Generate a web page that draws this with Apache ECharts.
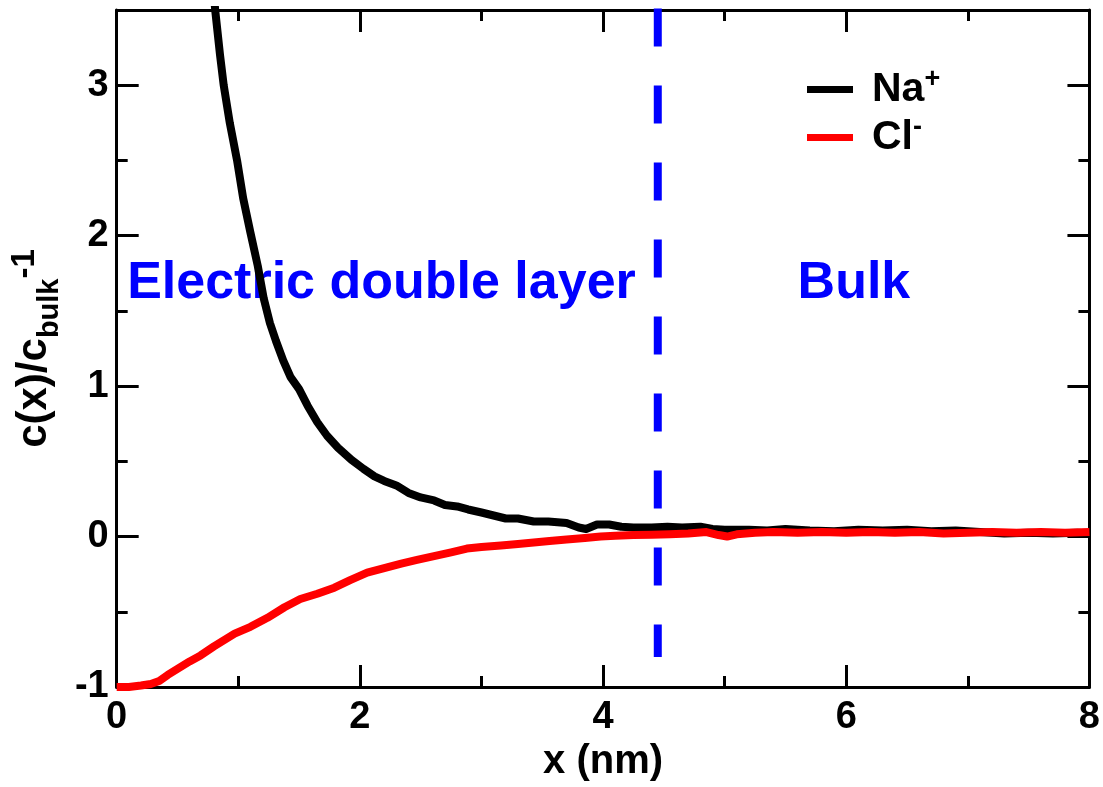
<!DOCTYPE html>
<html>
<head>
<meta charset="utf-8">
<script src="https://cdn.jsdelivr.net/npm/echarts@6/dist/echarts.min.js"></script>
<style>
  html, body { margin: 0; padding: 0; background: #fff; }
  #chart { width: 1103px; height: 787px; }
</style>
</head>
<body>
<div id="chart"></div>
<script>
// Distance from the charged wall (nm) and relative excess concentration c(x)/c_bulk - 1
const naX = [0.76, 0.81, 0.85, 0.88, 0.93, 0.99, 1.04, 1.10, 1.16, 1.21, 1.26, 1.31, 1.37, 1.43, 1.50,
  1.57, 1.65, 1.73, 1.82, 1.93, 2.03, 2.12, 2.20, 2.30, 2.40, 2.50, 2.61, 2.70, 2.80, 2.89,
  3.00, 3.10, 3.20, 3.30, 3.43, 3.55, 3.70, 3.80, 3.86, 3.95, 4.05, 4.15, 4.25, 4.40, 4.53,
  4.65, 4.80, 4.90, 5.00, 5.20, 5.35, 5.50, 5.70, 5.90, 6.10, 6.30, 6.50, 6.70, 6.90, 7.10,
  7.30, 7.50, 7.70, 7.90, 8.00];
const naY = [4.00, 3.50, 3.20, 3.00, 2.75, 2.50, 2.25, 2.02, 1.80, 1.58, 1.42, 1.30, 1.17, 1.06, 0.98,
  0.87, 0.76, 0.67, 0.59, 0.51, 0.45, 0.40, 0.37, 0.34, 0.29, 0.26, 0.24, 0.21, 0.20, 0.18,
  0.16, 0.14, 0.12, 0.12, 0.10, 0.10, 0.09, 0.06, 0.05, 0.08, 0.08, 0.065, 0.06, 0.06, 0.065,
  0.06, 0.065, 0.05, 0.045, 0.045, 0.04, 0.05, 0.04, 0.035, 0.045, 0.04, 0.045, 0.035, 0.04, 0.03,
  0.02, 0.025, 0.02, 0.025, 0.02];

const clX = [0.00, 0.10, 0.20, 0.28, 0.35, 0.42, 0.50, 0.60, 0.69, 0.80, 0.90, 0.97, 1.10, 1.24, 1.38,
  1.51, 1.65, 1.79, 1.92, 2.06, 2.20, 2.34, 2.47, 2.61, 2.75, 2.88, 3.00, 3.16, 3.30, 3.43,
  3.56, 3.70, 3.85, 3.98, 4.10, 4.25, 4.40, 4.55, 4.70, 4.85, 4.95, 5.02, 5.10, 5.25, 5.40,
  5.60, 5.80, 6.00, 6.20, 6.40, 6.60, 6.80, 7.00, 7.20, 7.40, 7.60, 7.80, 8.00];
const clY = [-1.00, -1.00, -0.99, -0.98, -0.96, -0.92, -0.88, -0.83, -0.79, -0.73, -0.68, -0.645, -0.60, -0.54, -0.47,
  -0.415, -0.38, -0.34, -0.29, -0.24, -0.21, -0.18, -0.155, -0.13, -0.105, -0.08, -0.07, -0.06, -0.05, -0.04,
  -0.03, -0.02, -0.01, 0.00, 0.005, 0.01, 0.012, 0.015, 0.02, 0.03, 0.01, 0.00, 0.015, 0.025, 0.03,
  0.025, 0.03, 0.025, 0.03, 0.025, 0.03, 0.02, 0.025, 0.03, 0.025, 0.03, 0.025, 0.03];

// Boundary between the double layer and the bulk region
const boundaryX = [4.45, 4.45];
const boundaryY = [3.51, -0.80];

// Region annotations
const regionNames = ['Electric double layer', 'Bulk'];
const regionX = [0.086, 5.60];
const regionY = [1.684, 1.684];

const xTicks = { min: 0, max: 8, interval: 2 };
const yTicks = { min: -1, max: 3.5, interval: 1, minorInterval: 0.5 };

const FONT = "'Liberation Sans', Arial, Helvetica, sans-serif";
const zip = (xs, ys) => xs.map((x, i) => [x, ys[i]]);

const baseLine = { show: true, onZero: false, lineStyle: { color: '#000', width: 3 } };
const noLine = { show: false, onZero: false };
const tickStyle = { color: '#000', width: 3 };

function xAxisDef(position, showLabels) {
  return {
    type: 'value', gridIndex: 0, position,
    min: xTicks.min, max: xTicks.max, interval: xTicks.interval,
    axisLine: baseLine,
    axisTick: { show: true, inside: true, length: 22, lineStyle: tickStyle },
    minorTick: { show: true, splitNumber: 2, length: 11, lineStyle: tickStyle },
    splitLine: { show: false }, minorSplitLine: { show: false },
    axisLabel: showLabels
      ? { show: true, color: '#000', fontSize: 38, fontWeight: 'bold', fontFamily: FONT, margin: 12 }
      : { show: false },
    name: showLabels ? 'x (nm)' : '',
    nameLocation: 'middle',
    nameGap: 55,
    nameTextStyle: { color: '#000', fontSize: 40, fontWeight: 'bold', fontFamily: FONT }
  };
}

function yAxisDef(position, interval, tickLen, showLabels, showLine) {
  const def = {
    type: 'value', gridIndex: 0, position,
    min: yTicks.min, max: yTicks.max, interval,
    axisLine: showLine ? baseLine : noLine,
    axisTick: { show: true, inside: true, length: tickLen, lineStyle: tickStyle },
    minorTick: { show: false },
    splitLine: { show: false },
    axisLabel: showLabels
      ? { show: true, color: '#000', fontSize: 38, fontWeight: 'bold', fontFamily: FONT, margin: 8,
          showMaxLabel: false,
          formatter: v => (Number.isInteger(v) ? String(v) : '') }
      : { show: false }
  };
  if (showLabels) {
    def.name = '{m|c(x)/c}{b|bulk}{n|-1}';
    def.nameLocation = 'middle';
    def.nameRotate = 90;
    def.nameGap = 44;
    def.nameTextStyle = {
      color: '#000', fontFamily: FONT, fontWeight: 'bold',
      rich: {
        m: { fontSize: 42, fontWeight: 'bold', fontFamily: FONT, color: '#000' },
        b: { fontSize: 29, fontWeight: 'bold', fontFamily: FONT, color: '#000', padding: [30, 0, 0, 0] },
        n: { fontSize: 33, fontWeight: 'bold', fontFamily: FONT, color: '#000', padding: [0, 0, 20, 0] }
      }
    };
  }
  return def;
}

const chart = echarts.init(document.getElementById('chart'), null, { renderer: 'canvas' });

chart.setOption({
  animation: false,
  backgroundColor: '#fff',
  grid: { left: 115, right: 13, top: 10, bottom: 97, containLabel: false },
  xAxis: [xAxisDef('bottom', true), xAxisDef('top', false)],
  yAxis: [
    yAxisDef('left', yTicks.interval, 22, true, true),
    yAxisDef('left', yTicks.minorInterval, 11, false, false),
    yAxisDef('right', yTicks.interval, 22, false, true),
    yAxisDef('right', yTicks.minorInterval, 11, false, false)
  ],
  legend: {
    orient: 'vertical',
    left: 807, top: 66, padding: 0,
    itemWidth: 46, itemHeight: 7, itemGap: 4,
    icon: 'rect',
    selectedMode: false,
    data: ['Na+', 'Cl-'],
    formatter: name => (name === 'Na+' ? '{m|Na}{s|+}' : '{m|Cl}{s|-}'),
    textStyle: {
      color: '#000', fontFamily: FONT, fontWeight: 'bold',
      rich: {
        m: { fontSize: 41, fontWeight: 'bold', fontFamily: FONT, color: '#000', padding: [0, 0, 0, 14] },
        s: { fontSize: 27, fontWeight: 'bold', fontFamily: FONT, color: '#000', padding: [0, 0, 20, 0] }
      }
    }
  },
  series: [
    {
      name: 'regions', type: 'scatter', z: 1, silent: true,
      symbolSize: 0,
      itemStyle: { opacity: 1 },
      data: regionNames.map((n, i) => ({ name: n, value: [regionX[i], regionY[i]] })),
      label: {
        show: true, position: 'right', distance: 0, opacity: 1,
        formatter: p => p.name,
        color: '#0000ff', fontSize: 52, fontWeight: 'bold', fontFamily: FONT
      },
      emphasis: { disabled: true }
    },
    {
      name: 'Na+', type: 'line', z: 2, showSymbol: false, symbol: 'none',
      data: zip(naX, naY),
      lineStyle: { color: '#000', width: 8, join: 'round' },
      itemStyle: { color: '#000' }
    },
    {
      name: 'Cl-', type: 'line', z: 3, showSymbol: false, symbol: 'none',
      data: zip(clX, clY),
      lineStyle: { color: '#ff0000', width: 8, join: 'round' },
      itemStyle: { color: '#ff0000' }
    },
    {
      name: 'boundary', type: 'line', z: 4, symbol: 'none', clip: false, silent: true,
      data: zip(boundaryX, boundaryY),
      lineStyle: { color: '#0000ff', width: 8, type: [38, 39], cap: 'butt' }
    }
  ]
});
</script>
</body>
</html>
